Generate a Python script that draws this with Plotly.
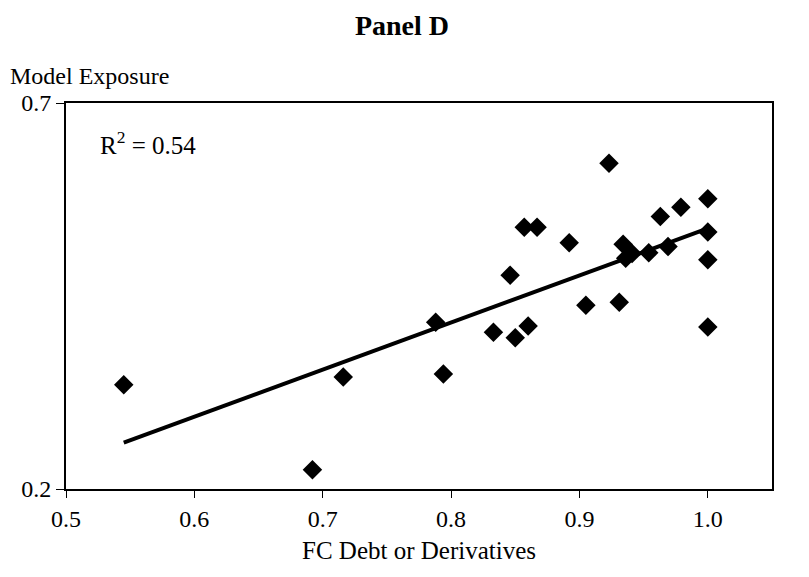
import numpy as np
import plotly.graph_objects as go

# Data
fc_debt = [0.545, 0.692, 0.716, 0.788, 0.794, 0.833, 0.846, 0.850, 0.857, 0.867,
           0.860, 0.892, 0.905, 0.923, 0.931, 0.934, 0.936, 0.941, 0.954, 0.963,
           0.969, 0.979, 1.0, 1.0, 1.0, 1.0]
model_exposure = [0.335, 0.225, 0.345, 0.416, 0.349, 0.403, 0.477, 0.396, 0.539, 0.539,
                  0.411, 0.519, 0.438, 0.622, 0.442, 0.517, 0.499, 0.505, 0.506, 0.553,
                  0.514, 0.565, 0.576, 0.533, 0.497, 0.410]
x_ticks = [0.5, 0.6, 0.7, 0.8, 0.9, 1.0]
x_tick_labels = ["0.5", "0.6", "0.7", "0.8", "0.9", "1.0"]
y_ticks = [0.2, 0.7]
y_tick_labels = ["0.2", "0.7"]
r2_text = "R<sup>2</sup> = 0.54"

slope, intercept = np.polyfit(fc_debt, model_exposure, 1)
trend_x = [min(fc_debt), max(fc_debt)]
trend_y = [slope * v + intercept for v in trend_x]

FONT = "Liberation Serif, Times New Roman, serif"

# page body has an 8px margin; figure is sized to fill the rest of the window
W, H = 801, 569
L, T, PW, PH = 58, 95, 706, 386

fig = go.Figure()
fig.add_trace(go.Scatter(x=trend_x, y=trend_y, mode="lines",
                         line=dict(color="black", width=4), hoverinfo="skip"))
fig.add_trace(go.Scatter(x=fc_debt, y=model_exposure, mode="markers",
                         marker=dict(symbol="diamond", size=15, color="black")))

fig.update_layout(
    width=W, height=H,
    margin=dict(l=L, r=W - L - PW, t=T, b=H - T - PH, pad=0),
    paper_bgcolor="white", plot_bgcolor="white",
    showlegend=False,
    font=dict(family=FONT, size=24, color="black"),
    title=dict(text="<b>Panel D</b>", x=394 / W, xanchor="center", y=1 - 17 / H,
               yanchor="middle", font=dict(family=FONT, size=28)),
    xaxis=dict(range=[0.5, 1.05], tickvals=x_ticks, ticktext=x_tick_labels,
               showgrid=False, zeroline=False, showline=True, linecolor="black",
               linewidth=2, mirror=True, ticks="outside", ticklen=7, tickwidth=1,
               tickcolor="black", tickfont=dict(family=FONT, size=24),
               title=dict(text="FC Debt or Derivatives", standoff=11,
                          font=dict(family=FONT, size=25))),
    yaxis=dict(range=[0.2, 0.7], tickvals=y_ticks, ticktext=y_tick_labels,
               showgrid=False, zeroline=False, showline=True, linecolor="black",
               linewidth=2, mirror=True, ticks="outside", ticklen=8, tickwidth=1,
               tickcolor="black", tickfont=dict(family=FONT, size=24)),
    annotations=[
        dict(text="Model Exposure", xref="paper", yref="paper",
             x=-58 / PW, y=1 + 27 / PH, xanchor="left", yanchor="middle",
             showarrow=False, font=dict(family=FONT, size=24)),
        dict(text=r2_text, xref="paper", yref="paper",
             x=32 / PW, y=1 - 40 / PH, xanchor="left", yanchor="middle",
             showarrow=False, font=dict(family=FONT, size=25)),
    ],
)

fig.write_html("out.html")
